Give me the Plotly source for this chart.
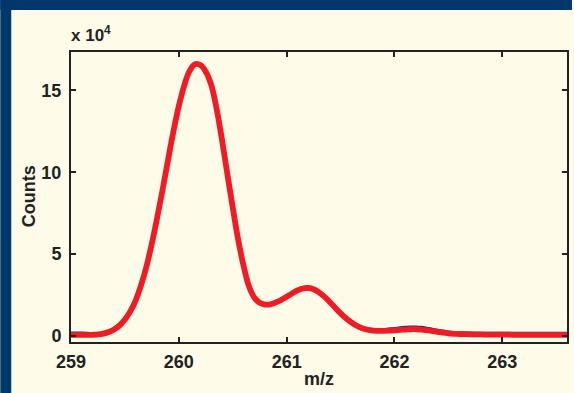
import plotly.graph_objects as go

# m/z sample positions
mz = [259.00, 259.05, 259.10, 259.15, 259.20, 259.25, 259.30, 259.35, 259.40, 259.45,
      259.50, 259.55, 259.60, 259.65, 259.70, 259.75, 259.80, 259.85, 259.90, 259.95,
      260.00, 260.05, 260.10, 260.15, 260.20, 260.25, 260.30, 260.35, 260.40, 260.45,
      260.50, 260.55, 260.60, 260.65, 260.70, 260.75, 260.80, 260.85, 260.90, 260.95,
      261.00, 261.05, 261.10, 261.15, 261.20, 261.25, 261.30, 261.35, 261.40, 261.45,
      261.50, 261.55, 261.60, 261.65, 261.70, 261.75, 261.80, 261.85, 261.90, 261.95,
      262.00, 262.05, 262.10, 262.15, 262.20, 262.25, 262.30, 262.35, 262.40, 262.45,
      262.50, 262.55, 262.60, 262.70, 262.80, 262.90, 263.00, 263.10, 263.20, 263.30,
      263.40, 263.50, 263.60]

# measured spectrum (blue), counts in units of 10^4
counts_measured = [0.20, 0.21, 0.21, 0.19, 0.16, 0.14, 0.18, 0.28, 0.45, 0.70,
                   1.07, 1.58, 2.28, 3.20, 4.38, 5.78, 7.38, 9.07, 10.86, 12.60,
                   14.13, 15.36, 16.25, 16.64, 16.60, 16.22, 15.45, 14.02, 12.13, 10.03,
                   7.98, 6.02, 4.40, 3.13, 2.42, 2.08, 1.96, 1.97, 2.10, 2.26,
                   2.47, 2.68, 2.86, 2.98, 3.01, 2.93, 2.74, 2.48, 2.16, 1.80,
                   1.46, 1.16, 0.91, 0.70, 0.55, 0.46, 0.42, 0.41, 0.42, 0.45,
                   0.48, 0.52, 0.55, 0.57, 0.57, 0.55, 0.50, 0.44, 0.38, 0.32,
                   0.27, 0.24, 0.22, 0.20, 0.19, 0.19, 0.19, 0.19, 0.19, 0.19,
                   0.19, 0.19, 0.19]

# fitted spectrum (red), counts in units of 10^4
counts_fit = [0.06, 0.06, 0.06, 0.06, 0.07, 0.09, 0.14, 0.24, 0.40, 0.64,
              1.00, 1.50, 2.18, 3.10, 4.25, 5.65, 7.25, 8.95, 10.75, 12.50,
              14.05, 15.30, 16.20, 16.60, 16.55, 16.15, 15.35, 13.90, 12.00, 9.90,
              7.85, 5.90, 4.30, 3.05, 2.35, 2.03, 1.92, 1.93, 2.05, 2.20,
              2.40, 2.60, 2.78, 2.90, 2.93, 2.85, 2.66, 2.40, 2.08, 1.72,
              1.38, 1.08, 0.83, 0.62, 0.47, 0.38, 0.33, 0.31, 0.31, 0.32,
              0.34, 0.37, 0.39, 0.41, 0.41, 0.39, 0.35, 0.30, 0.25, 0.20,
              0.16, 0.13, 0.12, 0.10, 0.09, 0.08, 0.08, 0.07, 0.07, 0.07,
              0.06, 0.06, 0.06]

x_ticks = [259, 260, 261, 262, 263]
y_ticks = [0, 5, 10, 15]
y_tick_labels = ["0", "5", "10", "15"]

fig = go.Figure()
fig.add_trace(go.Scatter(x=mz, y=counts_measured, mode="lines",
                         line=dict(color="#23238f", width=2.2, shape="spline", smoothing=1.0),
                         showlegend=False, hoverinfo="skip"))
fig.add_trace(go.Scatter(x=mz, y=counts_fit, mode="lines",
                         line=dict(color="#ee1c25", width=5.8, shape="spline", smoothing=1.0),
                         showlegend=False, hoverinfo="skip"))

cream = "#fefce9"
navy = "#00386b"
ink = "#222222"
fam = "Liberation Sans, Arial, Helvetica, sans-serif"

L, R, T, B = 71, 5, 52, 51
W, H = 574, 393
pw, ph = W - L - R, H - T - B


def px_x(p):
    return (p - L) / pw


def px_y(p):
    return (H - B - p) / ph


axis_common = dict(ticks="inside", ticklen=5, tickwidth=2, tickcolor=ink,
                   showline=True, linewidth=2, linecolor=ink, mirror="ticks",
                   showgrid=False, zeroline=False,
                   tickfont=dict(size=18, family=fam, color=ink, weight="bold"))

fig.update_layout(
    width=W, height=H,
    margin=dict(l=L, r=R, t=T, b=B, pad=0),
    paper_bgcolor=cream, plot_bgcolor=cream,
    font=dict(family=fam, color=ink, size=18, weight="bold"),
    xaxis=dict(range=[259, 263.6], tickvals=x_ticks, ticktext=[str(v) for v in x_ticks],
               ticklabelstandoff=2, **axis_common),
    yaxis=dict(range=[-0.37, 17.35], tickvals=y_ticks, ticktext=y_tick_labels,
               ticklabelstandoff=4, **axis_common),
    shapes=[
        dict(type="rect", xref="paper", yref="paper", x0=px_x(0), x1=px_x(11), y0=px_y(H), y1=px_y(0),
             fillcolor=navy, line=dict(width=0), layer="above"),
        dict(type="rect", xref="paper", yref="paper", x0=px_x(0), x1=px_x(W), y0=px_y(10), y1=px_y(0),
             fillcolor=navy, line=dict(width=0), layer="above"),
    ],
    annotations=[
        dict(text="Counts", xref="paper", yref="paper", x=px_x(29), y=px_y(196),
             textangle=-90, showarrow=False,
             font=dict(size=18, family=fam, color=ink, weight="bold"),
             xanchor="center", yanchor="middle"),
        dict(text="m/z", xref="paper", yref="paper", x=px_x(320), y=px_y(379),
             showarrow=False, font=dict(size=18, family=fam, color=ink, weight="bold"),
             xanchor="center", yanchor="middle"),
        dict(text="x 10<sup>4</sup>", xref="paper", yref="paper", x=px_x(69), y=px_y(47),
             showarrow=False, font=dict(size=17, family=fam, color=ink, weight="bold"),
             xanchor="left", yanchor="bottom"),
    ],
)

fig.write_html("out.html", config={"displayModeBar": False},
               post_script="document.body.style.margin='0';document.body.style.overflow='hidden';")
